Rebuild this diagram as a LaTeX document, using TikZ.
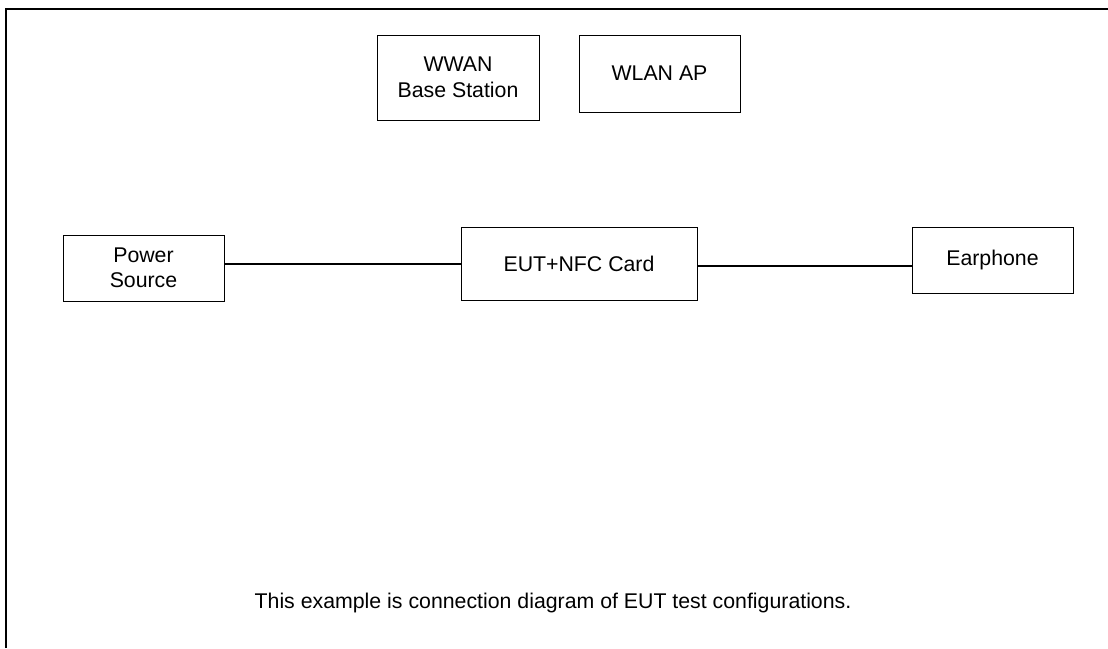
\documentclass[tikz,border=0pt]{standalone}
\usepackage{fontspec}
\setmainfont{Liberation Sans}
\begin{document}
\begin{tikzpicture}[x=1pt,y=-1pt,
  txt/.style={font=\fontsize{21.3}{25.5}\selectfont},
  box/.style={draw,line width=1pt,inner sep=0pt,align=center,txt},
  wire/.style={line width=1.6pt},
  frameline/.style={line width=2.6pt}]
\useasboundingbox (0,0) rectangle (1108,648);
% outer frame (top and left edges)
\draw[frameline] (6,648) -- (6,9) -- (1108,9);
% equipment boxes
\node[box,minimum width=162pt,minimum height=85pt] (wwan) at (458,77.5) {WWAN\\Base Station};
\node[box,minimum width=161pt,minimum height=77pt] (wlan) at (659.5,73.5) {WLAN AP};
\node[box,minimum width=161pt,minimum height=66pt] (power) at (143.5,268) {Power\\Source};
\node[box,minimum width=236pt,minimum height=73pt] (eut) at (579,263.5) {EUT+NFC Card};
\node[box,minimum width=161pt,minimum height=66pt] (ear) at (992.5,260) {Earphone};
% cables
\draw[wire] ([yshift=-0.5pt]eut.west) coordinate (ei) -- (ei -| power.east);
\draw[wire] ([yshift=-2.5pt]eut.east) coordinate (eo) -- (eo -| ear.west);
% note
\node[anchor=base,txt] (note) at (553,608)
  {This example is connection diagram of EUT test configurations.};
\end{tikzpicture}
\end{document}
